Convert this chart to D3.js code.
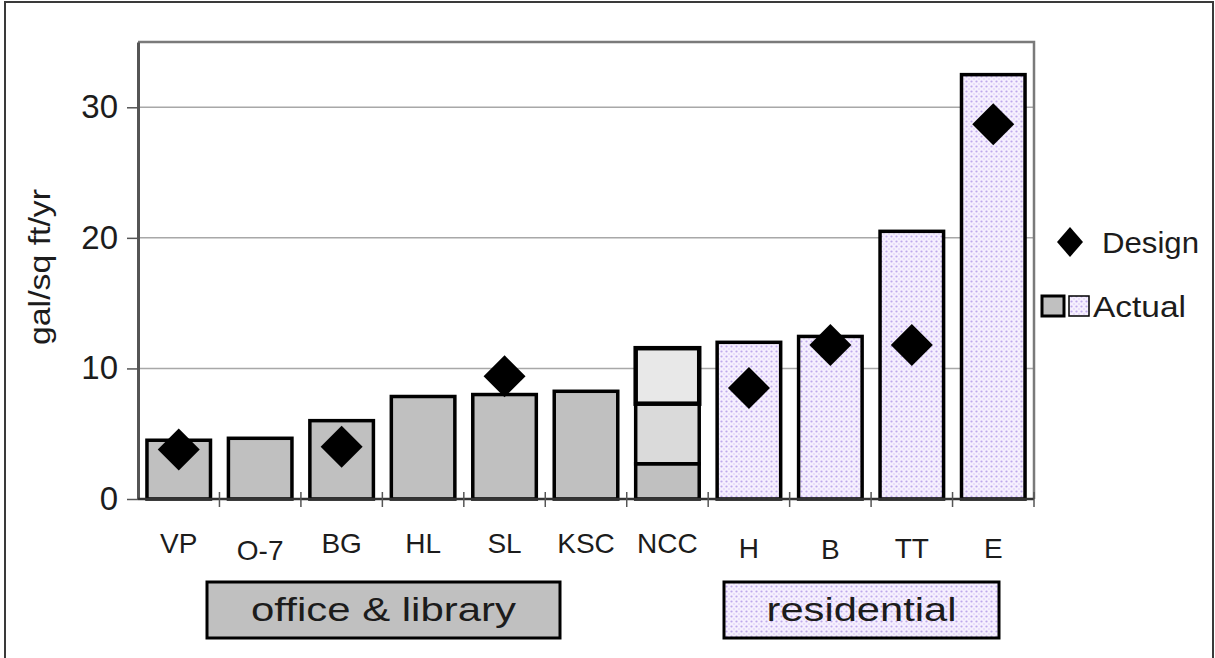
<!DOCTYPE html>
<html>
<head>
<meta charset="utf-8">
<script src="https://cdn.jsdelivr.net/npm/d3@7"></script>
<style>
  body { margin: 0; background: #fff; }
  svg text { font-family: "Liberation Sans", Arial, sans-serif; fill: #1c1c1c; }
</style>
</head>
<body>
<svg id="chart" width="1215" height="658"></svg>
<script>
// Water use per building, design estimate vs actual (gal/sq ft/yr)

var categories = ["VP", "O-7", "BG", "HL", "SL", "KSC", "NCC", "H", "B", "TT", "E"];
var groups = ["office", "office", "office", "office", "office", "office", "office",
              "residential", "residential", "residential", "residential"];
var actual = [4.5, 4.65, 6.0, 7.85, 8.0, 8.25, 11.55, 12.0, 12.45, 20.5, 32.5];
var design = [3.8, null, 4.0, null, 9.4, null, null, 8.5, 11.8, 11.8, 28.7];
// NCC actual is shown as three stacked parts
var ncc_parts = [2.7, 4.6, 4.25];
var y_ticks = [0, 10, 20, 30];
var group_labels = ["office & library", "residential"];
var legend_labels = ["Design", "Actual"];

var svg = d3.select("#chart");

var margin = { left: 138, right: 1034, top: 42, bottom: 499 };

var x = d3.scaleBand()
  .domain(categories)
  .range([margin.left, margin.right])
  .paddingInner(0.22)
  .paddingOuter(0.11);

var y = d3.scaleLinear()
  .domain([0, 35])
  .range([margin.bottom, margin.top]);

////////////////////////////////////////////////
// fills

var defs = svg.append("defs");
var pat = defs.append("pattern")
  .attr("id", "dots")
  .attr("patternUnits", "userSpaceOnUse")
  .attr("width", 5)
  .attr("height", 5);
pat.append("rect")
  .attr("width", 5)
  .attr("height", 5)
  .attr("fill", "#f6f0fe");
pat.append("circle")
  .attr("cx", 1.5).attr("cy", 1.5).attr("r", 1.1)
  .attr("fill", "#bea8ec");
pat.append("circle")
  .attr("cx", 4).attr("cy", 4).attr("r", 0.8)
  .attr("fill", "#d6c6f4");

function fill_for(g) {
  return g == "residential" ? "url(#dots)" : "#c0c0c0";
}

// diamond centred on cx, cy
function diamond(cx, cy, rx, ry) {
  return "M" + cx + "," + (cy - ry) +
         "L" + (cx + rx) + "," + cy +
         "L" + cx + "," + (cy + ry) +
         "L" + (cx - rx) + "," + cy + "Z";
}

// outer frame
svg.append("rect")
  .attr("x", 5).attr("y", 2)
  .attr("width", 1208).attr("height", 700)
  .attr("fill", "none")
  .attr("stroke", "#3a3a3a")
  .attr("stroke-width", 2);

////////////////////////////////////////////////
// grid and plot frame

svg.append("g")
  .selectAll("line")
  .data(y_ticks.filter(function(t) { return t > 0; }))
  .join("line")
    .attr("x1", margin.left)
    .attr("x2", margin.right)
    .attr("y1", function(d) { return y(d); })
    .attr("y2", function(d) { return y(d); })
    .attr("stroke", "#a8a8a8")
    .attr("stroke-width", 1.5);

svg.append("path")
  .attr("d", "M" + margin.left + "," + margin.top +
             "H" + margin.right + "V" + margin.bottom)
  .attr("fill", "none")
  .attr("stroke", "#7a7a7a")
  .attr("stroke-width", 2.5);

////////////////////////////////////////////////
// bars

var bars = svg.append("g");

categories.forEach(function(c, i) {
  if (c == "NCC") {
    var shades = ["#c0c0c0", "#dadada", "#e8e8e8"];
    var acc = 0;
    ncc_parts.forEach(function(p, k) {
      bars.append("rect")
        .attr("x", x(c))
        .attr("width", x.bandwidth())
        .attr("y", y(acc + p))
        .attr("height", y(acc) - y(acc + p))
        .attr("fill", shades[k])
        .attr("stroke", "#000")
        .attr("stroke-width", k == 2 ? 4.5 : 3.5);
      acc += p;
    });
    return;
  }
  bars.append("rect")
    .attr("x", x(c))
    .attr("width", x.bandwidth())
    .attr("y", y(actual[i]))
    .attr("height", y(0) - y(actual[i]))
    .attr("fill", fill_for(groups[i]))
    .attr("stroke", "#000")
    .attr("stroke-width", 3.5);
});

// design markers
svg.append("g")
  .selectAll("path")
  .data(categories.filter(function(c, i) { return design[i] != null; }))
  .join("path")
    .attr("d", function(c) {
      var i = categories.indexOf(c);
      return diamond(x(c) + x.bandwidth() / 2, y(design[i]), 21, 21);
    })
    .attr("fill", "#000");

////////////////////////////////////////////////
// axes

var y_axis = svg.append("g")
  .attr("transform", "translate(" + margin.left + ",0)")
  .call(d3.axisLeft(y).tickValues(y_ticks).tickSize(11).tickSizeOuter(0).tickPadding(9));
y_axis.select(".domain").attr("stroke", "#555").attr("stroke-width", 3);
y_axis.selectAll(".tick line").attr("stroke", "#555").attr("stroke-width", 1.5);
y_axis.selectAll("text")
  .attr("font-size", 33)
  .attr("fill", "#1c1c1c")
  .style("font-family", "'Liberation Sans', Arial, sans-serif");

// x baseline and the small ticks between buildings
svg.append("line")
  .attr("x1", margin.left).attr("x2", margin.right)
  .attr("y1", y(0)).attr("y2", y(0))
  .attr("stroke", "#333")
  .attr("stroke-width", 2.5);

svg.append("g")
  .selectAll("line")
  .data(d3.range(1, categories.length + 1))
  .join("line")
    .attr("x1", function(k) { return margin.left + k * x.step(); })
    .attr("x2", function(k) { return margin.left + k * x.step(); })
    .attr("y1", y(0) - 7)
    .attr("y2", y(0) + 8)
    .attr("stroke", "#555")
    .attr("stroke-width", 1.5);

// building names; a few sit a little lower in the original
var label_dy = { "O-7": 7, "H": 5, "B": 6, "TT": 5, "E": 5 };
svg.append("g")
  .selectAll("text")
  .data(categories)
  .join("text")
    .attr("x", function(c) { return x(c) + x.bandwidth() / 2; })
    .attr("y", function(c) { return 553 + (label_dy[c] || 0); })
    .attr("text-anchor", "middle")
    .attr("font-size", 28)
    .text(function(c) { return c; });

svg.append("text")
  .attr("transform", "translate(50,267) rotate(-90)")
  .attr("text-anchor", "middle")
  .attr("font-size", 30)
  .attr("textLength", 156)
  .attr("lengthAdjust", "spacingAndGlyphs")
  .text("gal/sq ft/yr");

////////////////////////////////////////////////
// group boxes below the axis

var group_boxes = [
  { x0: 207, x1: 560, fill: "#c0c0c0", width: 265 },
  { x0: 724, x1: 999, fill: "url(#dots)", width: 190 }
];
group_boxes.forEach(function(b, i) {
  svg.append("rect")
    .attr("x", b.x0).attr("y", 582)
    .attr("width", b.x1 - b.x0).attr("height", 56)
    .attr("fill", b.fill)
    .attr("stroke", "#000")
    .attr("stroke-width", 3);
  svg.append("text")
    .attr("x", (b.x0 + b.x1) / 2)
    .attr("y", 621)
    .attr("text-anchor", "middle")
    .attr("font-size", 34)
    .attr("textLength", b.width)
    .attr("lengthAdjust", "spacingAndGlyphs")
    .text(group_labels[i]);
});

////////////////////////////////////////////////
// legend

svg.append("path")
  .attr("d", diamond(1070, 242, 13, 15))
  .attr("fill", "#000");
svg.append("text")
  .attr("x", 1102).attr("y", 253)
  .attr("font-size", 30)
  .attr("textLength", 97)
  .attr("lengthAdjust", "spacingAndGlyphs")
  .text(legend_labels[0]);

svg.append("rect")
  .attr("x", 1042).attr("y", 296)
  .attr("width", 22).attr("height", 20)
  .attr("fill", "#c0c0c0")
  .attr("stroke", "#000")
  .attr("stroke-width", 3);
svg.append("rect")
  .attr("x", 1069).attr("y", 296)
  .attr("width", 20).attr("height", 20)
  .attr("fill", "url(#dots)")
  .attr("stroke", "#000")
  .attr("stroke-width", 1.5);
svg.append("text")
  .attr("x", 1093).attr("y", 317)
  .attr("font-size", 30)
  .attr("textLength", 93)
  .attr("lengthAdjust", "spacingAndGlyphs")
  .text(legend_labels[1]);
</script>
</body>
</html>
